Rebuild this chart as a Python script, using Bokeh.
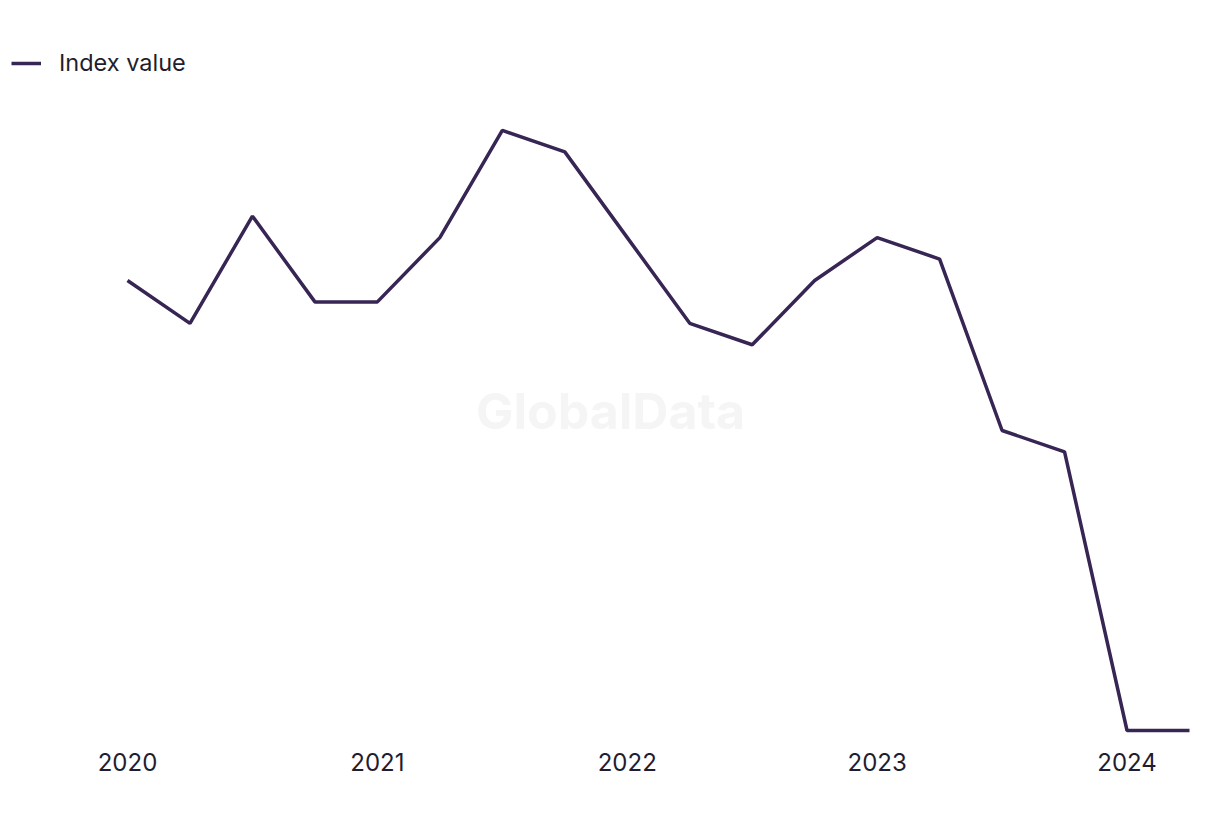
from bokeh.plotting import figure
from bokeh.models import Range1d, Legend, LegendItem, Label, FixedTicker, ColumnDataSource
from bokeh.embed import file_html
from bokeh.resources import INLINE

# Quarterly index values, Q1 2020 .. Q2 2024
quarters = ["Q1 2020", "Q2 2020", "Q3 2020", "Q4 2020",
            "Q1 2021", "Q2 2021", "Q3 2021", "Q4 2021",
            "Q1 2022", "Q2 2022", "Q3 2022", "Q4 2022",
            "Q1 2023", "Q2 2023", "Q3 2023", "Q4 2023",
            "Q1 2024", "Q2 2024"]
index_values = [21, 19, 24, 20, 20, 23, 28, 27, 23, 19, 18, 21, 23, 22, 14, 13, 0, 0]
year_labels = ["2020", "2021", "2022", "2023", "2024"]

LINE = "#372554"
TEXT = "#1f1d2e"
FONT = "Inter"

x_pos = list(range(len(quarters)))
src = ColumnDataSource(dict(x=x_pos, y=index_values, q=quarters))

W, H = 1220, 820
top, bottom = 37, 85
px_per_x = 62.47
px_per_y = 21.43
x_start = -127 / px_per_x
x_end = 17 + (W - 1189) / px_per_x
y_end = (730 - top) / px_per_y
y_start = -(H - bottom - 730) / px_per_y

p = figure(width=W, height=H, output_backend="svg", toolbar_location=None,
           x_range=Range1d(x_start, x_end), y_range=Range1d(y_start, y_end),
           min_border_left=0, min_border_right=0, min_border_top=top,
           min_border_bottom=bottom, outline_line_color=None)
p.background_fill_color = "white"
p.border_fill_color = "white"
p.grid.visible = False
p.yaxis.visible = False

wm = Label(x=(610 / px_per_x) + x_start, y=(730 - 410) / px_per_y, text="GlobalData",
           text_align="center", text_baseline="middle", text_font=FONT,
           text_font_style="bold", text_font_size="50px", text_color="#f5f5f5")
p.add_layout(wm)

r = p.line("x", "y", source=src, line_color=LINE, line_width=3.5)

ax = p.xaxis[0]
ax.ticker = FixedTicker(ticks=[0, 4, 8, 12, 16])
ax.major_label_overrides = {i * 4: lab for i, lab in enumerate(year_labels)}
ax.axis_line_color = None
ax.major_tick_line_color = None
ax.minor_tick_line_color = None
ax.major_tick_out = 0
ax.major_label_standoff = 17
ax.major_label_text_font = FONT
ax.major_label_text_font_size = "24px"
ax.major_label_text_color = TEXT

legend = Legend(items=[LegendItem(label="Index value", renderers=[r])],
                location="top_left", margin=0, padding=11,
                glyph_width=30, glyph_height=20, label_standoff=18,
                label_text_font=FONT, label_text_font_size="23.5px",
                label_text_color=TEXT, border_line_alpha=0,
                background_fill_alpha=0)
p.add_layout(legend)

open("out.html", "w").write(file_html(p, INLINE))
